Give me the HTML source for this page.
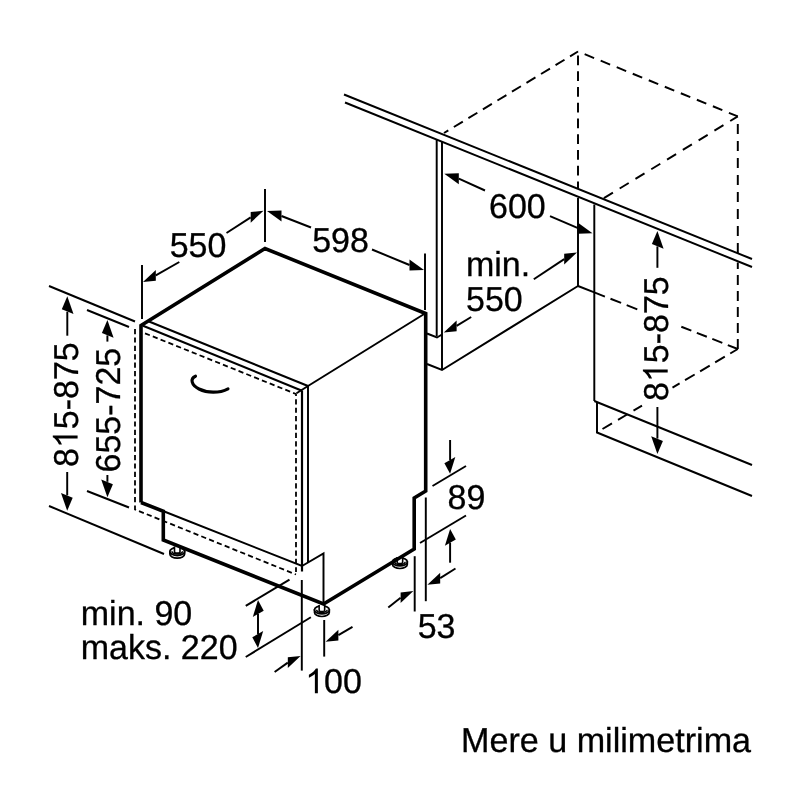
<!DOCTYPE html>
<html><head><meta charset="utf-8">
<style>
html,body{margin:0;padding:0;background:#fff;}
body{width:800px;height:800px;overflow:hidden;}
svg{display:block;will-change:transform;}
text{font-family:"Liberation Sans",sans-serif;font-size:34.5px;text-rendering:geometricPrecision;fill:#000;stroke:#000;stroke-width:0.3px;}
.t{stroke:#000;stroke-width:1.95;fill:none;stroke-linecap:butt;}
.k{stroke:#000;stroke-width:3.6;fill:none;stroke-linejoin:miter;stroke-linecap:butt;}
.d{stroke:#000;stroke-width:1.8;fill:none;stroke-dasharray:9.5 6.2;}
.f{stroke:#000;stroke-width:1.8;fill:none;stroke-dasharray:5.2 3.2;}
.a{fill:#000;stroke:none;}
</style></head><body>
<svg width="800" height="800" viewBox="0 0 800 800">
<rect width="800" height="800" fill="#fff"/>

<g id="cab">
<path class="t" d="M578,51.5 L444,133" stroke-dasharray="10.5 6.5" stroke-dashoffset="1.2"/>
<path class="t" d="M737.8,116.4 L578,51.5" stroke-dasharray="10.2 7.1" stroke-dashoffset="0.6"/>
<path class="t" d="M737.8,116.4 L602.5,199" stroke-dasharray="10.6 7.9" stroke-dashoffset="1.7"/>
<path class="t" d="M578,55.5 V188" stroke-dasharray="9.7 6.05" stroke-dashoffset="0"/>
<path class="t" d="M737.8,124.1 V254" stroke-dasharray="10 7" stroke-dashoffset="0"/>
<path class="t" d="M737.8,349 V262.5" stroke-dasharray="10 6" stroke-dashoffset="0"/>
<path class="t" d="M578,286 L594.3,292.4"/>
<path class="t" d="M594.3,292.4 L637.5,309.4" stroke-dasharray="11.4 6" stroke-dashoffset="0"/>
<path class="t" d="M737.8,349 L680.5,326.4" stroke-dasharray="10.75 5.9" stroke-dashoffset="0"/>
<path class="t" d="M737.8,349 L672.5,387.6" stroke-dasharray="11.2 6.3" stroke-dashoffset="2.4"/>
<path class="t" d="M602.5,429 L642,405.7" stroke-dasharray="11 7" stroke-dashoffset="0"/>
<path class="t" d="M344,94.5 L752,259"/>
<path class="t" d="M345,102.5 L752,267"/>
<path class="t" d="M436.7,140 V336"/>
<path class="t" d="M442,142 V370"/>
<path class="t" d="M427,333.5 L437,337.5 L442,334.5"/>
<path class="t" d="M427,364 L442,370 L578,286"/>
<path class="t" d="M578,198 V286"/>
<path class="t" d="M594.3,204.5 V401"/>
<path class="t" d="M594.3,401 L752,465"/>
<path class="t" d="M597,402 V432.5 L752,496"/>
</g>
<g id="machine">
<g><path d="M314.5,609.9 V612.5 A7.4,4 0 0 0 329.3,612.5 V609.9 Z" fill="#fff" stroke="#000" stroke-width="1.7"/><ellipse cx="321.9" cy="609.9" rx="7.4" ry="4" fill="#fff" stroke="#000" stroke-width="1.8"/><path d="M316.6,609.7 A5.3,2.7 0 0 0 327.2,609.7" fill="none" stroke="#000" stroke-width="1.5"/><path d="M319.15,604.9 V610.2 A2.75,1.3 0 0 0 324.65,610.2 V604.9" fill="#fff" stroke="#000" stroke-width="1.6"/></g>
<g><path d="M169.85,551.5 V554.1 A7.4,4 0 0 0 184.65,554.1 V551.5 Z" fill="#fff" stroke="#000" stroke-width="1.7"/><ellipse cx="177.25" cy="551.5" rx="7.4" ry="4" fill="#fff" stroke="#000" stroke-width="1.8"/><path d="M171.95,551.3 A5.3,2.7 0 0 0 182.55,551.3" fill="none" stroke="#000" stroke-width="1.5"/><path d="M174.5,546.5 V551.8 A2.75,1.3 0 0 0 180,551.8 V546.5" fill="#fff" stroke="#000" stroke-width="1.6"/></g>
<g><path d="M392.5,561.9 V564.5 A7.4,4 0 0 0 407.3,564.5 V561.9 Z" fill="#fff" stroke="#000" stroke-width="1.7"/><ellipse cx="399.9" cy="561.9" rx="7.4" ry="4" fill="#fff" stroke="#000" stroke-width="1.8"/><path d="M394.6,561.7 A5.3,2.7 0 0 0 405.2,561.7" fill="none" stroke="#000" stroke-width="1.5"/><path d="M397.15,556.9 V562.2 A2.75,1.3 0 0 0 402.65,562.2 V556.9" fill="#fff" stroke="#000" stroke-width="1.6"/></g>
<path class="k" d="M141,502.5 V325.5 L265,248.5 L425.7,313.5 V491 L414.2,498 V549 L323.5,604 L163.3,540 V511.2 L141,502.5"/>
<path class="t" style="stroke-width:2.1" d="M149,321.5 L308,386"/>
<path class="t" style="stroke-width:2.1" d="M143,325.8 L302,390.7"/>
<path class="t" d="M308,386 L425,313.5"/>
<path class="t" d="M296.5,393.3 L308,386"/>
<path class="t" d="M308,386 V562.5"/>
<path class="t" style="stroke-width:2.2" d="M302,390.5 V571.5"/>
<path class="t" d="M163,511 L302,566 L323.5,553.5 V604"/>
<path class="f" d="M135,329 V509.5 L296,574.5"/>
<path class="f" d="M145,333.3 L296,394 V572"/>
<path d="M195.5,376.2 C190,378.5 191,385 199,389 C207,393 219,393.5 228,388.8" fill="none" stroke="#000" stroke-width="3.1" stroke-linecap="round"/>
</g>
<g id="dims">
<path class="t" d="M265,189 L265,242"/>
<path class="t" d="M142,265 L142,319"/>
<path class="t" d="M425,253.5 L425,310"/>
<path class="t" d="M179.3,262 L155.8,275.35"/>
<path class="t" d="M226.5,233 L250.7,217.35"/>
<path class="t" d="M311,227.5 L281.5,216"/>
<path class="t" d="M372,249.5 L409.5,265"/>
<path class="t" d="M49,286 L135,321.5"/>
<path class="t" d="M87,310 L129,327"/>
<path class="t" d="M49,506 L164,554"/>
<path class="t" d="M87,491 L129,507.5"/>
<path class="t" d="M67.3,335.7 L67.3,311.7"/>
<path class="t" d="M67.2,472 L67.2,495.4"/>
<path class="t" d="M107.4,341.6 L107.4,335.4"/>
<path class="t" d="M107.4,475 L107.4,481.8"/>
<path class="t" d="M245.75,605.9 L289.5,579.6"/>
<path class="t" d="M245.75,657 L310.85,617.25"/>
<path class="t" d="M258,613.8 L258,634.2"/>
<path class="t" d="M301.8,580 L301.8,670.6"/>
<path class="t" d="M324.2,620 L324.2,656.6"/>
<path class="t" d="M274.6,672 L287.8,662.65"/>
<path class="t" d="M352.5,626.9 L338.4,635.15"/>
<path class="t" d="M414.7,556.2 L414.7,611.5"/>
<path class="t" d="M425.8,497.5 L425.8,601.2"/>
<path class="t" d="M388.3,607.4 L400.6,597.75"/>
<path class="t" d="M455.5,568.5 L440.2,578.05"/>
<path class="t" d="M432.5,486 L466,466"/>
<path class="t" d="M420,543 L466,515.5"/>
<path class="t" d="M450.1,440 L450.1,460.1"/>
<path class="t" d="M450.1,562.7 L450.1,542.6"/>
<path class="t" d="M485,190.5 L458.8,178.7"/>
<path class="t" d="M550,216.2 L578,228.2"/>
<path class="t" d="M533.8,279.2 L564.2,259.15"/>
<path class="t" d="M471.2,317 L456.6,325.85"/>
<path class="t" d="M657.4,267.8 L657.4,246.4"/>
<path class="t" d="M657.4,407 L657.4,438.6"/>
</g>
<g class="a"><path d="M143,282 L155.8,280.7 L155.8,270 Z"/>
<path d="M263.5,210.7 L250.7,212 L250.7,222.7 Z"/>
<path d="M267,211 L281.5,221.5 L281.5,210.5 Z"/>
<path d="M424,270 L409.5,259.5 L409.5,270.5 Z"/>
<path d="M67.3,296.3 L61.8,309.3 L73.5,314.1 Z"/>
<path d="M67.2,510.8 L72.7,497.8 L61,493 Z"/>
<path d="M107.4,320 L101.9,333 L113.6,337.8 Z"/>
<path d="M107.4,497.2 L112.9,484.2 L101.2,479.4 Z"/>
<path d="M258,600.1 L252.8,616.9 L263.7,610.7 Z"/>
<path d="M258,647.9 L263.2,631.1 L252.3,637.3 Z"/>
<path d="M300.6,656 L287.8,657.3 L287.8,668 Z"/>
<path d="M325.6,641.8 L338.4,640.5 L338.4,629.8 Z"/>
<path d="M413.4,591.1 L400.6,592.4 L400.6,603.1 Z"/>
<path d="M427.4,584.7 L440.2,583.4 L440.2,572.7 Z"/>
<path d="M450.1,473.8 L455.3,457 L444.4,463.2 Z"/>
<path d="M450.1,528.9 L444.9,545.7 L455.8,539.5 Z"/>
<path d="M444.3,173.7 L458.8,184.2 L458.8,173.2 Z"/>
<path d="M592.5,233.2 L578,222.7 L578,233.7 Z"/>
<path d="M577,252.5 L564.2,253.8 L564.2,264.5 Z"/>
<path d="M443.8,332.5 L456.6,331.2 L456.6,320.5 Z"/>
<path d="M657.4,231 L651.9,244 L663.6,248.8 Z"/>
<path d="M657.4,454 L662.9,441 L651.2,436.2 Z"/></g>
<g id="txt">
<text transform="translate(169.7,256.9) scale(0.985,1)">550</text>
<text transform="translate(312.2,252) scale(0.985,1)">598</text>
<text transform="translate(489,218.3) scale(0.985,1)">600</text>
<text transform="translate(466,275.7) scale(0.985,1)">min.</text>
<text transform="translate(466,310.6) scale(0.985,1)">550</text>
<text transform="translate(447.5,509.3) scale(0.985,1)">89</text>
<text transform="translate(417.7,637.6) scale(0.985,1)">53</text>
<g transform="translate(305.2,693.3) scale(0.985,1)"><text style="white-space:pre">  00</text><path d="M763,0 H583 V1147 Q518,1085 412.5,1023 Q307,961 223,930 V1104 Q374,1175 487,1276 Q600,1377 647,1472 H763 Z" transform="translate(0,0) scale(0.01685,-0.01685)" fill="#000"/></g>
<text transform="translate(80.8,625) scale(0.985,1)">min. 90</text>
<text transform="translate(80.8,659) scale(0.985,1)">maks. 220</text>
<text transform="translate(461,751.8) scale(0.989,1)">Mere u milimetrima</text>
<g transform="translate(77.6,467) rotate(-90) scale(0.985,1)"><text style="white-space:pre">8  5-875</text><path d="M763,0 H583 V1147 Q518,1085 412.5,1023 Q307,961 223,930 V1104 Q374,1175 487,1276 Q600,1377 647,1472 H763 Z" transform="translate(19.18,0) scale(0.01685,-0.01685)" fill="#000"/></g>
<text transform="translate(119.6,472.5) rotate(-90) scale(0.985,1)">655-725</text>
<g transform="translate(667.7,401) rotate(-90) scale(0.985,1)"><text style="white-space:pre">8  5-875</text><path d="M763,0 H583 V1147 Q518,1085 412.5,1023 Q307,961 223,930 V1104 Q374,1175 487,1276 Q600,1377 647,1472 H763 Z" transform="translate(19.18,0) scale(0.01685,-0.01685)" fill="#000"/></g>
</g>
</svg>
</body></html>
